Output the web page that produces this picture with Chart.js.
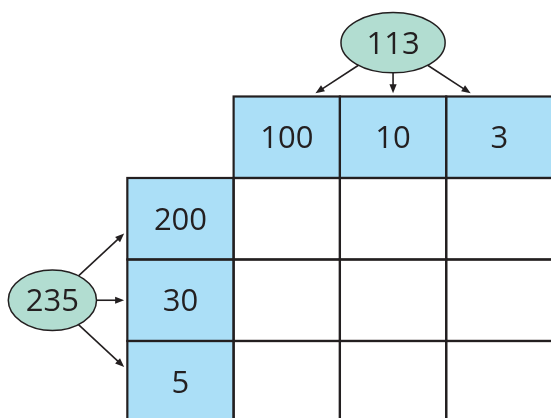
<!DOCTYPE html>
<html>
<head>
<meta charset="utf-8">
<script src="https://cdn.jsdelivr.net/npm/chart.js@4/dist/chart.umd.min.js"></script>
<style>
  html, body { margin: 0; padding: 0; background: #fff; }
</style>
</head>
<body>
<canvas id="grid" width="551" height="418"></canvas>
<script>
// the two numbers and how they split up
var colFactors = [100, 10, 3];
var rowFactors = [200, 30, 5];
var colNumber = 113;
var rowNumber = 235;

var ink = '#231f20';
var headFill = '#abdff7';
var ovalFill = '#b2ddd1';
var numFont = '31px "Open Sans", "Noto Sans", sans-serif';

// one unit = one cell. column 0 holds the side factors, row 0 the top factors
var headCells = colFactors.map(function (v, i) { return { x: i + 1.5, y: 0.5, label: String(v) }; });
var sideCells = rowFactors.map(function (v, i) { return { x: 0.5, y: i + 1.5, label: String(v) }; });
var blankCells = [];
rowFactors.forEach(function (r, i) {
  colFactors.forEach(function (c, j) {
    blankCells.push({ x: j + 1.5, y: i + 1.5, label: '' });
  });
});

// ovals sit over the middle column / beside the middle row
var midCol = (colFactors.length + 2) / 2;
var midRow = (rowFactors.length + 2) / 2;
var ovals = [
  { x: midCol, y: -0.66, rx: 0.49, ry: 0.37, label: String(colNumber),
    to: [[midCol - 0.73, -0.04], [midCol, -0.04], [midCol + 0.73, -0.04]] },
  { x: -0.705, y: midRow, rx: 0.415, ry: 0.37, label: String(rowNumber),
    to: [[-0.03, midRow - 0.82], [-0.03, midRow], [-0.03, midRow + 0.82]] }
];

function arrow(c, x0, y0, x1, y1) {
  var a = Math.atan2(y1 - y0, x1 - x0);
  var len = 9, half = 3.6;
  c.beginPath();
  c.moveTo(x0, y0);
  c.lineTo(x1 - Math.cos(a) * len * 0.8, y1 - Math.sin(a) * len * 0.8);
  c.stroke();
  c.beginPath();
  c.moveTo(x1, y1);
  c.lineTo(x1 - Math.cos(a) * len - Math.sin(a) * half, y1 - Math.sin(a) * len + Math.cos(a) * half);
  c.lineTo(x1 - Math.cos(a) * len + Math.sin(a) * half, y1 - Math.sin(a) * len - Math.cos(a) * half);
  c.closePath();
  c.fill();
}

var gridPlugin = {
  id: 'gridCells',
  afterDatasetsDraw: function (chart) {
    var c = chart.ctx;
    var xs = chart.scales.x, ys = chart.scales.y;
    var px = function (v) { return xs.getPixelForValue(v); };
    var py = function (v) { return ys.getPixelForValue(v); };
    c.save();
    // fills first, borders after, so shared edges stay even
    chart.data.datasets.forEach(function (ds) {
      if (!ds.cell) return;
      c.fillStyle = ds.cellFill;
      ds.data.forEach(function (d) {
        c.fillRect(px(d.x - 0.5), py(d.y - 0.5), px(d.x + 0.5) - px(d.x - 0.5), py(d.y + 0.5) - py(d.y - 0.5));
      });
    });
    c.strokeStyle = ink;
    c.lineWidth = 2.2;
    chart.data.datasets.forEach(function (ds) {
      if (!ds.cell) return;
      ds.data.forEach(function (d) {
        c.strokeRect(px(d.x - 0.5), py(d.y - 0.5), px(d.x + 0.5) - px(d.x - 0.5), py(d.y + 0.5) - py(d.y - 0.5));
      });
    });
    c.fillStyle = ink;
    c.font = numFont;
    c.textAlign = 'center';
    c.textBaseline = 'middle';
    chart.data.datasets.forEach(function (ds) {
      if (!ds.cell) return;
      ds.data.forEach(function (d) {
        if (d.label) c.fillText(d.label, px(d.x), py(d.y) + 2);
      });
    });

    // ovals with their arrows
    ovals.forEach(function (o) {
      var cx = px(o.x), cy = py(o.y);
      var rx = px(o.x + o.rx) - cx, ry = py(o.y + o.ry) - cy;
      c.lineWidth = 1.6;
      c.strokeStyle = ink;
      c.fillStyle = ink;
      o.to.forEach(function (t) {
        var tx = px(t[0]), ty = py(t[1]);
        var dx = tx - cx, dy = ty - cy;
        var k = 1 / Math.sqrt((dx * dx) / (rx * rx) + (dy * dy) / (ry * ry));
        arrow(c, cx + dx * k, cy + dy * k, tx, ty);
      });
      c.beginPath();
      c.ellipse(cx, cy, rx, ry, 0, 0, Math.PI * 2);
      c.fillStyle = ovalFill;
      c.fill();
      c.lineWidth = 1.5;
      c.stroke();
      c.fillStyle = ink;
      c.fillText(o.label, cx, cy + 2);
    });
    c.restore();
  }
};

var chart = new Chart(document.getElementById('grid').getContext('2d'), {
  type: 'scatter',
  data: {
    datasets: [{
      label: 'products',
      data: blankCells,
      cell: true,
      cellFill: '#ffffff',
      pointRadius: 0
    }, {
      label: 'top factors',
      data: headCells,
      cell: true,
      cellFill: headFill,
      pointRadius: 0
    }, {
      label: 'side factors',
      data: sideCells,
      cell: true,
      cellFill: headFill,
      pointRadius: 0
    }]
  },
  options: {
    responsive: false,
    animation: false,
    devicePixelRatio: 1,
    events: [],
    layout: { padding: 0 },
    scales: {
      x: { type: 'linear', min: -1.198, max: 3.986, display: false },
      y: { type: 'linear', min: -1.184, max: 3.945, reverse: true, display: false }
    },
    plugins: {
      legend: { display: false },
      tooltip: { enabled: false }
    }
  },
  plugins: [gridPlugin]
});
</script>
</body>
</html>
